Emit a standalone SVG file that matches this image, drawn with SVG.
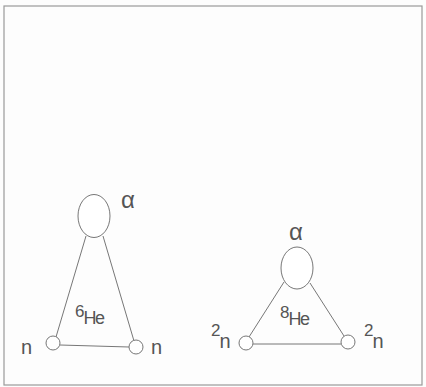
<svg xmlns="http://www.w3.org/2000/svg" width="426" height="387" viewBox="0 0 426 387">
<style>
.frame{fill:none;stroke:#9a9a9a;stroke-width:1.2}
.nuc{fill:#fff;stroke:#777;stroke-width:1}
.bond{stroke:#777;stroke-width:1;fill:none}
.t{font-family:"Liberation Sans",Arial,sans-serif;fill:#555}
.lbl{font-size:20px}
.he{font-size:18px;letter-spacing:-1.5px}
.al{font-size:24px}
.sup{font-size:17px}
</style>
<rect width="426" height="387" fill="#fdfdfd"/>
<rect class="frame" x="4" y="6" width="418" height="379"/>
<g id="connectors">
<line class="bond" x1="86" y1="236" x2="56" y2="337"/>
<line class="bond" x1="103" y1="236" x2="134" y2="341"/>
<line class="bond" x1="60" y1="345" x2="129" y2="347"/>
<line class="bond" x1="284" y1="282" x2="249" y2="337"/>
<line class="bond" x1="310" y1="283" x2="344" y2="336"/>
<line class="bond" x1="253" y1="344" x2="341" y2="344"/>
</g>
<g id="he6-alpha"><ellipse class="nuc" cx="94" cy="216" rx="16" ry="21.5"/><text class="t al" x="121" y="208">α</text></g>
<g id="he6-n1"><circle class="nuc" cx="53" cy="343" r="7"/><text class="t lbl" x="21" y="354">n</text></g>
<g id="he6-n2"><circle class="nuc" cx="136" cy="347" r="7"/><text class="t lbl" x="151" y="354">n</text></g>
<g id="he6-label"><text class="t" x="75" y="324"><tspan class="sup" dy="-7">6</tspan><tspan class="he" dx="-1" dy="7">He</tspan></text></g>
<g id="he8-alpha"><ellipse class="nuc" cx="297" cy="268" rx="16" ry="21"/><text class="t al" x="289" y="240">α</text></g>
<g id="he8-n1"><circle class="nuc" cx="246" cy="343" r="7"/><text class="t" x="211" y="348"><tspan class="sup" dy="-12">2</tspan><tspan class="lbl" dx="-1" dy="12">n</tspan></text></g>
<g id="he8-n2"><circle class="nuc" cx="348" cy="342" r="7"/><text class="t" x="364" y="348"><tspan class="sup" dy="-12">2</tspan><tspan class="lbl" dx="-1" dy="12">n</tspan></text></g>
<g id="he8-label"><text class="t" x="280" y="325"><tspan class="sup" dy="-7">8</tspan><tspan class="he" dx="-1" dy="7">He</tspan></text></g>
</svg>
